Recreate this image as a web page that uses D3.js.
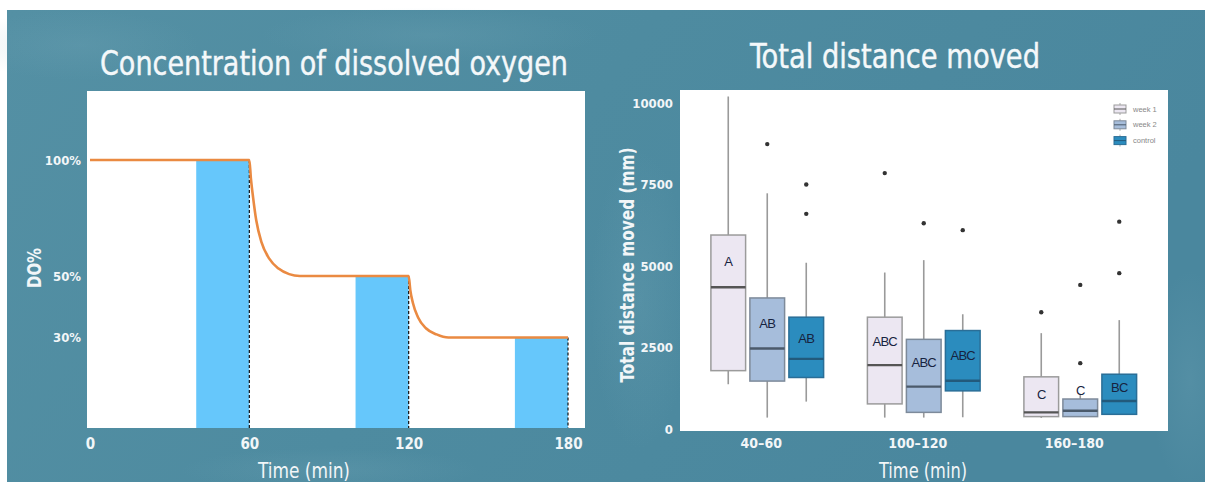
<!DOCTYPE html>
<html><head><meta charset="utf-8">
<script src="https://cdn.jsdelivr.net/npm/d3@7"></script>
<style>
html,body{margin:0;padding:0;background:#fff;}
svg{display:block;}
</style></head><body>
<script>
// ---- Dissolved-oxygen schedule ----
const timeTicks = [0, 60, 120, 180];
const doTicks = [30, 50, 100];
const exposureStart = [40, 100, 160];
const exposureEnd = [60, 120, 180];
const exposureLevel = [100, 50, 30];
const doTime  = [0, 60, 60.6, 61.4, 62.6, 64.6, 67.5, 71, 75, 79, 120, 120.6, 121.6, 123.5, 126.5, 130.5, 135, 180];
const doLevel = [100, 100, 92, 84, 74, 64.5, 57.5, 53.2, 50.8, 50, 50, 45.5, 41.2, 36.6, 33, 31, 30, 30];

// ---- Total distance moved (mm), [time window][group] ----
const windows = ["40–60", "100–120", "160–180"];
const groups = ["week 1", "week 2", "control"];
const distTicks = [0, 2500, 5000, 7500, 10000];
const whiskerHigh = [[10200, 7230, 5100], [4800, 5180, 3520], [2940, 1040, 3340]];
const q3          = [[5950, 4020, 3430], [3430, 2750, 3020], [1600, 920, 1680]];
const median      = [[4350, 2470, 2150], [1960, 1300, 1480], [510, 560, 860]];
const q1          = [[1790, 1470, 1580], [770, 510, 1170], [380, 380, 450]];
const whiskerLow  = [[1370, 350, 840], [350, 350, 360], [340, 380, 450]];
const outliers    = [[[], [8740], [7500, 6600]], [[7850], [6310], [6100]], [[3580], [4420, 2020], [6360, 4780]]];
const letters     = [["A", "AB", "AB"], ["ABC", "ABC", "ABC"], ["C", "C", "BC"]];

const W = 1205, H = 482;
const narrow = "'DejaVu Sans Condensed','DejaVu Sans',sans-serif";
const svg = d3.select("body").append("svg").attr("width", W).attr("height", H);

// water-textured backdrop
const defs = svg.append("defs");
const bg = defs.append("linearGradient").attr("id", "bg").attr("x1", 0).attr("y1", 0).attr("x2", 1).attr("y2", 0.3);
bg.append("stop").attr("offset", 0).attr("stop-color", "#5490a4");
bg.append("stop").attr("offset", 0.5).attr("stop-color", "#4e8ba0");
bg.append("stop").attr("offset", 1).attr("stop-color", "#4a879e");
const glow = defs.append("radialGradient").attr("id", "glow");
glow.append("stop").attr("offset", 0).attr("stop-color", "#76a9ba").attr("stop-opacity", 0.22);
glow.append("stop").attr("offset", 1).attr("stop-color", "#76a9ba").attr("stop-opacity", 0);
svg.append("rect").attr("x", 7).attr("y", 10).attr("width", W - 7).attr("height", H - 10).attr("fill", "url(#bg)");
[[80, 45, 120, 35], [430, 35, 170, 28], [640, 300, 50, 150], [1190, 380, 40, 110], [330, 470, 150, 22]].forEach(([cx, cy, rx, ry]) =>
  svg.append("ellipse").attr("cx", cx).attr("cy", cy).attr("rx", rx).attr("ry", ry).attr("fill", "url(#glow)"));

function title(x, y, txt, len) {
  svg.append("text").attr("x", x).attr("y", y).attr("text-anchor", "middle")
    .attr("font-family", narrow).style("font-stretch", "condensed").attr("font-size", 33)
    .attr("fill", "#f4f8fa").attr("stroke", "#f4f8fa").attr("stroke-width", 0.4)
    .attr("textLength", len).attr("lengthAdjust", "spacingAndGlyphs").text(txt);
}
function styleAxis(g, size) {
  g.select(".domain").remove();
  g.selectAll("text").attr("fill", "#f2f6f8").attr("font-family", narrow).style("font-stretch", "condensed")
    .attr("font-size", size).attr("font-weight", "bold");
}

// ================= Left panel: DO% over time =================
const xT = d3.scaleLinear().domain([0, 180]).range([90, 568]);
const yDO = d3.scaleLinear().domain([0, 30, 50, 100]).range([428, 337.5, 276, 160]);

svg.append("rect").attr("x", 87).attr("y", 91).attr("width", 498).attr("height", 337).attr("fill", "#fff");

const left = svg.append("g");
exposureStart.forEach((s, i) => {
  left.append("rect").attr("x", xT(s)).attr("y", yDO(exposureLevel[i]))
    .attr("width", xT(exposureEnd[i]) - xT(s)).attr("height", yDO(0) - yDO(exposureLevel[i]))
    .attr("fill", "#66c7fb");
  left.append("line").attr("x1", xT(exposureEnd[i])).attr("x2", xT(exposureEnd[i]))
    .attr("y1", yDO(exposureLevel[i])).attr("y2", yDO(0))
    .attr("stroke", "#111").attr("stroke-width", 1.2).attr("stroke-dasharray", "3,2");
});
left.append("path").datum(doTime.map((t, i) => [t, doLevel[i]]))
  .attr("fill", "none").attr("stroke", "#ea8a42").attr("stroke-width", 2.6)
  .attr("d", d3.line().x(d => xT(d[0])).y(d => yDO(d[1])).curve(d3.curveMonotoneX));

svg.append("g").attr("transform", "translate(87,0)")
  .call(d3.axisLeft(yDO).tickValues(doTicks).tickFormat(d => d + "%").tickSize(0).tickPadding(6))
  .call(g => styleAxis(g, 13));
svg.append("g").attr("transform", "translate(0,428)")
  .call(d3.axisBottom(xT).tickValues(timeTicks).tickSize(0).tickPadding(10))
  .call(g => styleAxis(g, 15));

svg.append("text").attr("transform", "translate(34,268) rotate(-90)").attr("text-anchor", "middle")
  .attr("dominant-baseline", "central").attr("font-family", narrow).style("font-stretch", "condensed")
  .attr("font-size", 20).attr("font-weight", "bold").attr("fill", "#f2f6f8")
  .attr("textLength", 40).attr("lengthAdjust", "spacingAndGlyphs").text("DO%");
svg.append("text").attr("x", 304).attr("y", 478).attr("text-anchor", "middle")
  .attr("font-family", narrow).style("font-stretch", "condensed").attr("font-size", 21).attr("fill", "#f2f6f8")
  .attr("textLength", 92).attr("lengthAdjust", "spacingAndGlyphs").text("Time (min)");
title(334, 75, "Concentration of dissolved oxygen", 468);

// ================= Right panel: box plots =================
const xW = d3.scaleBand().domain(windows).range([689, 1158.5]);
const xG = d3.scaleBand().domain(groups).range([19.75, 136.75]);
const yD = d3.scaleLinear().domain([0, 10000]).range([429, 103]);
const fills = ["#ece7f2", "#a6bddb", "#2b8cbe"];
const strokes = ["#9b9b9b", "#7d8a9a", "#2a6e97"];
const medians = ["#555555", "#4b5a6b", "#225a7c"];
const bw = xG.bandwidth() * 0.89;

svg.append("rect").attr("x", 680).attr("y", 90).attr("width", 488).attr("height", 341).attr("fill", "#fff");

const right = svg.append("g");
windows.forEach((w, i) => {
  groups.forEach((g, j) => {
    const cx = xW(w) + xG(g) + xG.bandwidth() / 2;
    right.append("line").attr("x1", cx).attr("x2", cx)
      .attr("y1", yD(whiskerLow[i][j])).attr("y2", yD(whiskerHigh[i][j]))
      .attr("stroke", "#9a9a9a").attr("stroke-width", 1.6);
    right.append("rect").attr("x", cx - bw / 2).attr("y", yD(q3[i][j]))
      .attr("width", bw).attr("height", yD(q1[i][j]) - yD(q3[i][j]))
      .attr("fill", fills[j]).attr("stroke", strokes[j]).attr("stroke-width", 1.5);
    right.append("line").attr("x1", cx - bw / 2).attr("x2", cx + bw / 2)
      .attr("y1", yD(median[i][j])).attr("y2", yD(median[i][j]))
      .attr("stroke", medians[j]).attr("stroke-width", 2.4);
    outliers[i][j].forEach(v => right.append("circle").attr("cx", cx).attr("cy", yD(v))
      .attr("r", 2.2).attr("fill", "#333"));
    const boxH = yD(q1[i][j]) - yD(q3[i][j]);
    const ly = boxH < 22 ? yD(q3[i][j]) - 9 : (yD(q3[i][j]) + yD(median[i][j])) / 2;
    right.append("text").attr("x", cx).attr("y", ly).attr("text-anchor", "middle")
      .attr("dominant-baseline", "central").attr("font-family", "'Liberation Sans',Arial,sans-serif")
      .attr("font-size", 13).attr("letter-spacing", -0.7).attr("fill", "#17233f").text(letters[i][j]);
  });
});

// legend
const lg = svg.append("g").attr("transform", "translate(1113,0)");
groups.forEach((g, j) => {
  const cy = 109 + j * 15.8;
  lg.append("line").attr("x1", 7).attr("x2", 7).attr("y1", cy - 6).attr("y2", cy + 6)
    .attr("stroke", "#aaa").attr("stroke-width", 1);
  lg.append("rect").attr("x", 1).attr("y", cy - 4).attr("width", 12).attr("height", 8)
    .attr("fill", fills[j]).attr("stroke", strokes[j]).attr("stroke-width", 1);
  lg.append("line").attr("x1", 1).attr("x2", 13).attr("y1", cy).attr("y2", cy)
    .attr("stroke", medians[j]).attr("stroke-width", 1);
  lg.append("text").attr("x", 20).attr("y", cy).attr("dominant-baseline", "central")
    .attr("font-family", "'Liberation Sans',Arial,sans-serif").attr("font-size", 7.5)
    .attr("fill", "#888").text(g);
});

svg.append("g").attr("transform", "translate(680,0)")
  .call(d3.axisLeft(yD).tickValues(distTicks).tickFormat(d3.format("d")).tickSize(0).tickPadding(7))
  .call(g => styleAxis(g, 13));
svg.append("g").attr("transform", "translate(-6,431)")
  .call(d3.axisBottom(xW).tickSize(0).tickPadding(7))
  .call(g => styleAxis(g, 14));

svg.append("text").attr("transform", "translate(627,265) rotate(-90)").attr("text-anchor", "middle")
  .attr("dominant-baseline", "central").attr("font-family", narrow).style("font-stretch", "condensed")
  .attr("font-size", 20).attr("font-weight", "bold").attr("fill", "#f2f6f8")
  .attr("textLength", 235).attr("lengthAdjust", "spacingAndGlyphs")
  .text("Total distance moved (mm)");
svg.append("text").attr("x", 923).attr("y", 478).attr("text-anchor", "middle")
  .attr("font-family", narrow).style("font-stretch", "condensed").attr("font-size", 21).attr("fill", "#f2f6f8")
  .attr("textLength", 88).attr("lengthAdjust", "spacingAndGlyphs").text("Time (min)");
title(895, 68, "Total distance moved", 290);
</script>
</body></html>
